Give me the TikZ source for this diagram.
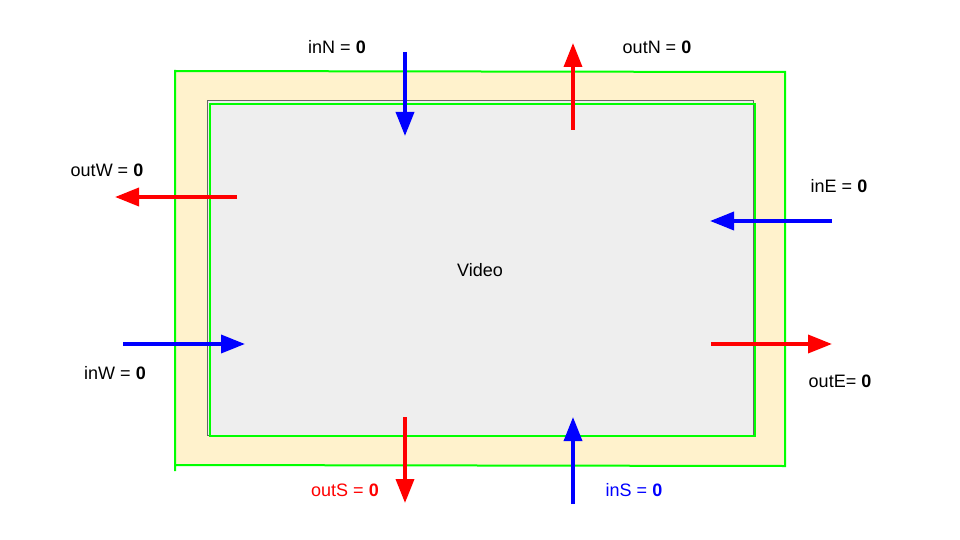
\documentclass[tikz,border=0pt]{standalone}
\usepackage{fontspec}
\setmainfont{Liberation Sans}
\usetikzlibrary{arrows.meta}
\definecolor{cream}{HTML}{FFF2CC}
\definecolor{vgrey}{HTML}{EEEEEE}
\definecolor{vborder}{HTML}{666666}
\definecolor{vgreen}{HTML}{00FF00}
\definecolor{vblue}{HTML}{0000FF}
\definecolor{vred}{HTML}{FF0000}
\begin{document}
\begin{tikzpicture}[x=1pt,y=-1pt,
  lbl/.style={font=\fontsize{18}{21}\selectfont, inner sep=0pt},
  inarrow/.style={draw=vblue, line width=3.5pt, -{Triangle[length=24pt,width=18pt]}},
  outarrow/.style={draw=vred, line width=3.5pt, -{Triangle[length=24pt,width=18pt]}},
  greenline/.style={draw=vgreen, line width=2pt}]
\useasboundingbox (0,0) rectangle (960,540);
% outer frame
\path[fill=cream] (175,71) rectangle (786,466);
\draw[greenline] (175,471) -- (175,71) -- (785,72) -- (785,466) -- (175,465);
% video area
\path[fill=vgrey, draw=vborder, line width=1pt] (207,101) rectangle (753,435);
\draw[greenline] (210,104) rectangle (755,436);
\node[lbl] (video) at (480,270) {Video};
% coordinates
\coordinate (inNs) at (405,52);  \coordinate (inNe) at (405,136);
\coordinate (outNs) at (573,130); \coordinate (outNe) at (573,43);
\coordinate (outWs) at (237,197); \coordinate (outWe) at (115,197);
\coordinate (inEs) at (832,221); \coordinate (inEe) at (710,221);
\coordinate (inWs) at (123,344); \coordinate (inWe) at (245,344);
\coordinate (outEs) at (711,344); \coordinate (outEe) at (832,344);
\coordinate (outSs) at (405,417); \coordinate (outSe) at (405,503);
\coordinate (inSs) at (573,504); \coordinate (inSe) at (573,417);
% arrows
\draw[inarrow] (inNs) -- (inNe);
\draw[outarrow] (outNs) -- (outNe);
\draw[outarrow] (outWs) -- (outWe);
\draw[inarrow] (inEs) -- (inEe);
\draw[inarrow] (inWs) -- (inWe);
\draw[outarrow] (outEs) -- (outEe);
\draw[outarrow] (outSs) -- (outSe);
\draw[inarrow] (inSs) -- (inSe);
% labels
\node[lbl] (linN) at (337,47) {inN = \textbf{0}};
\node[lbl] (loutN) at (657,47) {outN = \textbf{0}};
\node[lbl] (loutW) at (107,170) {outW = \textbf{0}};
\node[lbl] (linE) at (839,186) {inE = \textbf{0}};
\node[lbl] (linW) at (115,373) {inW = \textbf{0}};
\node[lbl] (loutE) at (840,381) {outE= \textbf{0}};
\node[lbl, text=vred] (loutS) at (345,490) {outS = \textbf{0}};
\node[lbl, text=vblue] (linS) at (634,490) {inS = \textbf{0}};
\end{tikzpicture}
\end{document}
